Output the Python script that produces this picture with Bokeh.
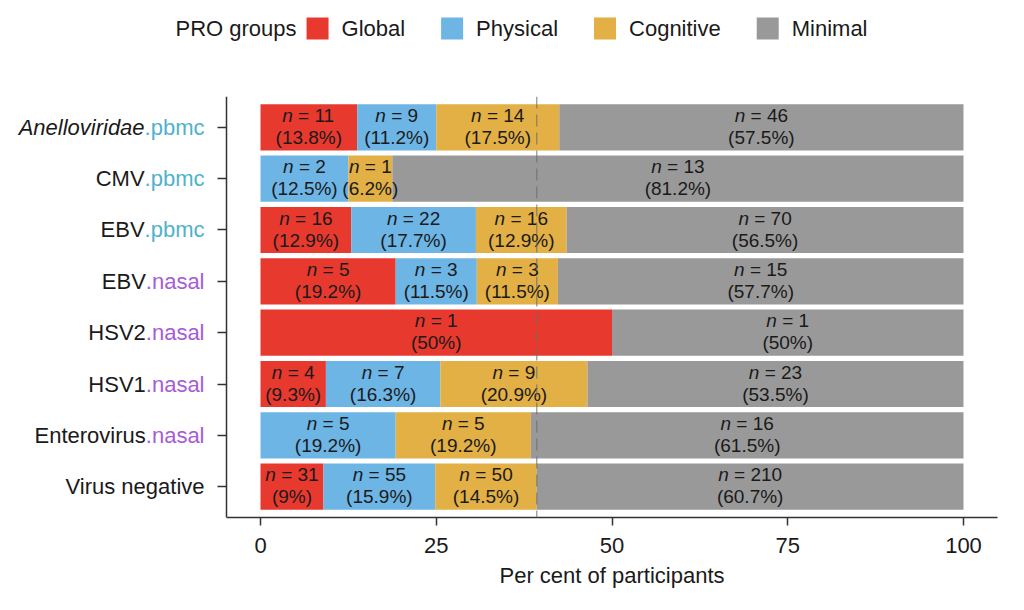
from bokeh.plotting import figure
from bokeh.models import ColumnDataSource, FactorRange, Range1d, FixedTicker, Span, Title
from bokeh.transform import dodge
from bokeh.layouts import column
from bokeh.embed import file_html
from bokeh.resources import INLINE
from bokeh.core.properties import value

# ---------------- data ----------------
categories = ["Anelloviridae.pbmc", "CMV.pbmc", "EBV.pbmc", "EBV.nasal",
              "HSV2.nasal", "HSV1.nasal", "Enterovirus.nasal", "Virus negative"]
groups = ["Global", "Physical", "Cognitive", "Minimal"]
group_colors = ["#E8392F", "#6DB5E5", "#E2B045", "#999999"]
global_n = [11, 0, 16, 5, 1, 4, 0, 31]
physical_n = [9, 2, 22, 3, 0, 7, 5, 55]
cognitive_n = [14, 1, 16, 3, 0, 9, 5, 50]
minimal_n = [46, 13, 70, 15, 1, 23, 16, 210]
x_ticks = [0, 25, 50, 75, 100]
x_label = "Per cent of participants"
legend_title = "PRO groups"
italic_names = ["Anelloviridae"]
suffix_colors = {"pbmc": "#4FB2CA", "nasal": "#A65CD6"}
reference_row = "Virus negative"

FONT = "Liberation Sans"
INK = "#1a1a1a"

# Arial / Liberation Sans advance widths (per 1000 em) for layout offsets
_W = {' ': 278, '.': 278, '=': 584, '(': 333, ')': 333, '%': 889,
      'a': 556, 'b': 556, 'c': 500, 'd': 556, 'e': 556, 'f': 278, 'g': 556, 'h': 556,
      'i': 222, 'l': 222, 'm': 833, 'n': 556, 'o': 556, 'p': 556, 'r': 333, 's': 500,
      't': 278, 'u': 556, 'v': 500, 'y': 500,
      'A': 667, 'C': 722, 'E': 667, 'G': 778, 'H': 722, 'M': 833, 'O': 778, 'P': 667,
      'R': 722, 'V': 667}


def tw(s, size):
    return sum(_W.get(ch, 556) for ch in s) / 1000.0 * size


counts = [global_n, physical_n, cognitive_n, minimal_n]

# ---------------- page layout (pixels) ----------------
FIG_W = 1024
LEG_H = 60
FRAME_RIGHT = 997          # right edge of plotting frame
AXIS_PX = 226              # left axis line
PX0, PX100 = 260, 963      # where 0 % and 100 % fall
K = (PX100 - PX0) / 100.0  # px per percent
X_START = -PX0 / K
X_END = (FRAME_RIGHT - PX0) / K
X_AXIS = (AXIS_PX - PX0) / K

# ---------------- segments ----------------
BAR_FS = 19
seg = dict(cat=[], left=[], right=[], color=[], xc=[], n_sym=[], n_rest=[],
           pct=[], off_l=[], off_r=[])
for i, cat in enumerate(categories):
    total = sum(arr[i] for arr in counts)
    left = 0.0
    for g, col, arr in zip(groups, group_colors, counts):
        n = arr[i]
        if n == 0:
            continue
        pc = 100.0 * n / total
        right = left + pc
        rest = "= %d" % n
        w = tw("n " + rest, BAR_FS)
        seg["cat"].append(cat)
        seg["left"].append(left)
        seg["right"].append(right)
        seg["color"].append(col)
        seg["xc"].append((left + right) / 2.0)
        seg["n_sym"].append("n")
        seg["n_rest"].append(rest)
        seg["pct"].append("(%s%%)" % format(round(pc, 1), "g"))
        seg["off_l"].append(-w / 2.0 + tw("n", BAR_FS))
        seg["off_r"].append(-w / 2.0 + tw("n ", BAR_FS))
        left = right
src = ColumnDataSource(seg)

ri = categories.index(reference_row)
ref_total = sum(arr[ri] for arr in counts)
ref_x = 100.0 * (ref_total - minimal_n[ri]) / ref_total

# ---------------- main figure ----------------
p = figure(width=FIG_W, height=547,
           y_range=FactorRange(factors=categories[::-1], range_padding=0.1,
                               range_padding_units="absolute"),
           x_range=Range1d(X_START, X_END),
           y_axis_location="right",
           output_backend="svg", toolbar_location=None,
           min_border_left=0, min_border_right=FIG_W - FRAME_RIGHT,
           min_border_top=96 - LEG_H, min_border_bottom=90)
p.background_fill_color = "white"
p.outline_line_color = None
p.grid.visible = False

p.hbar(y="cat", left="left", right="right", height=0.9, fill_color="color",
       line_color=None, source=src)

p.add_layout(Span(location=ref_x, dimension="height", line_color="#6a6a6a",
                  line_dash="12 6", line_width=1.0, line_alpha=0.9))

up = dodge("cat", 0.23, range=p.y_range)
dn = dodge("cat", -0.20, range=p.y_range)
p.text(x="xc", y=up, text="n_sym", x_offset="off_l", source=src,
       text_align=value("right"), text_baseline=value("middle"),
       text_font=value(FONT), text_font_style=value("italic"),
       text_font_size=value("%dpx" % BAR_FS), text_color=INK)
p.text(x="xc", y=up, text="n_rest", x_offset="off_r", source=src,
       text_align=value("left"), text_baseline=value("middle"),
       text_font=value(FONT), text_font_style=value("normal"),
       text_font_size=value("%dpx" % BAR_FS), text_color=INK)
p.text(x="xc", y=dn, text="pct", source=src,
       text_align=value("center"), text_baseline=value("middle"),
       text_font=value(FONT), text_font_style=value("normal"),
       text_font_size=value("%dpx" % BAR_FS), text_color=INK)

# y-axis labels (two-colour), drawn left of the axis line
LAB_FS = 22
GAP = 22
lab_groups = {}


def add_lab(key, cat, txt, off):
    d = lab_groups.setdefault(key, dict(cat=[], x=[], txt=[], off=[]))
    d["cat"].append(cat)
    d["x"].append(X_AXIS)
    d["txt"].append(txt)
    d["off"].append(off)


for cat in categories:
    if "." in cat:
        pre, suf = cat.split(".", 1)
        add_lab(("suf", suf), cat, "." + suf, -GAP)
        off = -GAP - tw("." + suf, LAB_FS)
    else:
        pre = cat
        off = -GAP
    add_lab(("pre", pre in italic_names), cat, pre, off)

for key, d in lab_groups.items():
    if key[0] == "suf":
        color, style = suffix_colors[key[1]], "normal"
    else:
        color, style = INK, ("italic" if key[1] else "normal")
    p.text(x="x", y="cat", text="txt", x_offset="off", source=ColumnDataSource(d),
           text_align=value("right"), text_baseline=value("middle"),
           text_font=value(FONT), text_font_size=value("%dpx" % LAB_FS),
           text_font_style=value(style), text_color=color)

# axes
for ax in (p.xaxis[0], p.yaxis[0]):
    ax.axis_line_color = "#333333"
    ax.axis_line_width = 1.5
    ax.major_tick_line_color = "#333333"
    ax.major_tick_line_width = 1.5
    ax.minor_tick_line_color = None

p.xaxis.ticker = FixedTicker(ticks=x_ticks)
p.xaxis.bounds = (X_AXIS, X_END)
p.xaxis.major_tick_in = 0
p.xaxis.major_tick_out = 8
p.xaxis.major_label_standoff = 12
p.xaxis.major_label_text_font = FONT
p.xaxis.major_label_text_font_size = "22px"
p.xaxis.major_label_text_color = INK

# x-axis title, centred under the axis line (not under the wider frame)
XL_FS = 22
AXIS_MID = (AXIS_PX + FRAME_RIGHT) / 2.0
p.add_layout(Title(text=x_label, align="left",
                   offset=AXIS_MID - tw(x_label, XL_FS) / 2.0,
                   text_font=FONT, text_font_size="%dpx" % XL_FS,
                   text_font_style="normal", text_color=INK, standoff=10), "below")

p.yaxis.fixed_location = X_AXIS
p.yaxis.major_tick_out = 0
p.yaxis.major_tick_in = 9
p.yaxis.major_label_text_font_size = "0px"
p.yaxis.major_label_text_alpha = 0
p.yaxis.major_label_standoff = 0

# ---------------- legend strip ----------------
lg = figure(width=FIG_W, height=LEG_H, x_range=Range1d(0, FRAME_RIGHT),
            y_range=Range1d(LEG_H, 0),
            output_backend="svg", toolbar_location=None,
            x_axis_location=None, y_axis_location=None,
            min_border_left=0, min_border_right=FIG_W - FRAME_RIGHT,
            min_border_top=0, min_border_bottom=0)
lg.outline_line_color = None
lg.grid.visible = False

LEG_FS = 22
LEG_Y = 28
KEY = 22
xs = 175.0
lg.text(x=[xs], y=[LEG_Y], text=[legend_title], text_align=value("left"),
        text_baseline=value("middle"), text_font=value(FONT),
        text_font_size=value("%dpx" % LEG_FS), text_color=INK)
xs += tw(legend_title, LEG_FS) + 10
key_x, lab_x = [], []
for g in groups:
    key_x.append(xs + KEY / 2.0)
    xs += KEY + 13
    lab_x.append(xs)
    xs += tw(g, LEG_FS) + 36
lg.rect(x=key_x, y=[LEG_Y] * len(groups), width=KEY, height=KEY,
        fill_color=group_colors, line_color=None)
lg.text(x=lab_x, y=[LEG_Y] * len(groups), text=groups, text_align=value("left"),
        text_baseline=value("middle"), text_font=value(FONT),
        text_font_size=value("%dpx" % LEG_FS), text_color=INK)

layout = column(lg, p, spacing=0)
open("out.html", "w").write(file_html(layout, INLINE))
